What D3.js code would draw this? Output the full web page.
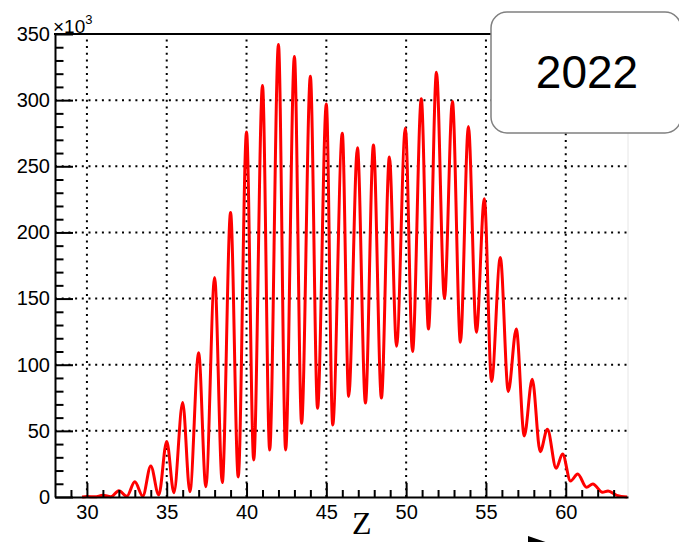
<!DOCTYPE html>
<html>
<head>
<meta charset="utf-8">
<script src="https://cdn.jsdelivr.net/npm/d3@7"></script>
<style>
  html, body { margin: 0; padding: 0; background: #fff; }
  svg { display: block; }
</style>
</head>
<body>
<script>
// Charge distribution: yield (x10^3) at the peaks and valleys of the Z spectrum
const zPositions = [
  29.7, 30.0, 30.5, 31.0, 31.5, 32.0, 32.5, 33.0, 33.5, 34.0, 34.5,
  35.0, 35.45, 36.0, 36.45, 37.0, 37.45, 38.0, 38.48, 39.0, 39.48,
  40.0, 40.45, 41.0, 41.45, 42.0, 42.45, 43.0, 43.45, 44.0, 44.45,
  45.0, 45.4, 46.0, 46.4, 46.95, 47.45, 47.95, 48.45, 48.95, 49.4,
  49.95, 50.4, 50.95, 51.4, 51.9, 52.4, 52.9, 53.4, 53.9, 54.4,
  54.9, 55.35, 55.9, 56.4, 56.9, 57.4, 57.9, 58.4, 58.85, 59.4,
  59.8, 60.3, 60.75, 61.3, 61.7, 62.3, 62.65, 63.2, 63.85
];
const countsK = [
  0, 0.4, 0.1, 1.3, 0.2, 4.8, 0.5, 11.5, 0.7, 23.5, 1.5,
  42, 3.3, 71.5, 4, 109, 7.8, 166, 10.9, 215, 15.2,
  276, 28, 311, 35.6, 342, 35.6, 333, 55.8, 318, 67,
  297, 54.5, 275, 76, 264, 71, 266, 74.8, 257, 113.9,
  279, 110, 301, 127, 321, 150, 299, 117, 280, 124.5,
  225.5, 87.4, 181, 79.8, 127, 46.2, 89, 34.3, 51.3, 21.7,
  32.6, 12.1, 17.4, 7.3, 9.8, 3.5, 4.5, 1.2, 0
];
const xMajorTicks = [30, 35, 40, 45, 50, 55, 60];
const xMinorTicks = d3.range(29, 64, 1).filter(v => v % 5 !== 0);
const yMajorTicks = [0, 50, 100, 150, 200, 250, 300, 350];
const yMinorTicks = d3.range(10, 350, 10).filter(v => v % 50 !== 0);
const yearLabel = "2022";
const xTitle = "Z";

const W = 679, H = 542;
const margin = { left: 55, top: 34, right: 51, bottom: 45 };

const svg = d3.select("body").append("svg")
  .attr("width", W).attr("height", H)
  .style("font-family", "'Liberation Sans', Arial, Helvetica, sans-serif");

const x = d3.scaleLinear().domain([28, 63.9]).range([margin.left, W - margin.right]);
const y = d3.scaleLinear().domain([0, 350]).range([H - margin.bottom, margin.top]);

// faint right edge of the frame
svg.append("line")
  .attr("x1", x(63.9)).attr("x2", x(63.9))
  .attr("y1", y(0)).attr("y2", y(350))
  .attr("stroke", "#e6e6e6").attr("stroke-width", 1);

// dotted grid
const grid = svg.append("g")
  .attr("stroke", "#000").attr("stroke-width", 2)
  .attr("stroke-dasharray", "2,4.7");
grid.selectAll(".gx").data(xMajorTicks).join("line")
  .attr("x1", d => x(d)).attr("x2", d => x(d))
  .attr("y1", y(0)).attr("y2", y(350));
grid.selectAll(".gy").data(yMajorTicks.filter(v => v > 0 && v < 350)).join("line")
  .attr("x1", x(28)).attr("x2", x(63.9))
  .attr("y1", d => y(d)).attr("y2", d => y(d));

// spectrum curve
const line = d3.line()
  .x((d, i) => x(zPositions[i]))
  .y(d => y(d))
  .curve(d3.curveMonotoneX);
svg.append("path")
  .datum(countsK)
  .attr("d", line)
  .attr("fill", "none")
  .attr("stroke", "#ff0000")
  .attr("stroke-width", 3)
  .attr("stroke-linejoin", "round");

// axes with inward ticks
svg.append("g")
  .attr("transform", `translate(${x(28)},0)`)
  .call(d3.axisLeft(y).tickValues(yMajorTicks).tickSizeInner(-18).tickSizeOuter(0).tickPadding(5));
svg.append("g")
  .attr("transform", `translate(${x(28)},0)`)
  .call(d3.axisLeft(y).tickValues(yMinorTicks).tickSizeInner(-8.5).tickSizeOuter(0).tickFormat(""))
  .call(g => g.select(".domain").remove());

svg.append("g")
  .attr("transform", `translate(0,${y(0)})`)
  .call(d3.axisBottom(x).tickValues(xMajorTicks).tickSizeInner(-14).tickSizeOuter(0).tickPadding(8));
svg.append("g")
  .attr("transform", `translate(0,${y(0)})`)
  .call(d3.axisBottom(x).tickValues(xMinorTicks).tickSizeInner(-7).tickSizeOuter(0).tickFormat(""))
  .call(g => g.select(".domain").remove());

svg.selectAll(".tick line").attr("stroke", "#000").attr("stroke-width", 2);
svg.selectAll(".domain").attr("stroke", "#000").attr("stroke-width", 2);
svg.selectAll(".tick text")
  .attr("fill", "#000")
  .style("font-size", "20px")
  .style("font-family", "'Liberation Sans', Arial, Helvetica, sans-serif");

// top frame line
svg.append("line")
  .attr("x1", x(28) - 1).attr("x2", x(63.9))
  .attr("y1", y(350)).attr("y2", y(350))
  .attr("stroke", "#000").attr("stroke-width", 2);

// y-axis multiplier
const mult = svg.append("text").attr("fill", "#000").attr("x", 53).attr("y", 33)
  .style("font-size", "19px");
mult.append("tspan").text("\u00d710");
mult.append("tspan").attr("dy", -9).style("font-size", "13px").text("3");

// year box
svg.append("rect")
  .attr("x", 491).attr("y", 12)
  .attr("width", 190).attr("height", 121)
  .attr("rx", 16).attr("ry", 16)
  .attr("fill", "#fff")
  .attr("stroke", "#808080").attr("stroke-width", 1.5);
svg.append("text")
  .attr("x", 587).attr("y", 88)
  .attr("text-anchor", "middle")
  .style("font-size", "46px")
  .attr("fill", "#000")
  .text(yearLabel);

// axis title and arrow head
svg.append("text")
  .attr("x", 352).attr("y", 534)
  .style("font-family", "'Liberation Serif', 'Times New Roman', serif")
  .style("font-size", "32px")
  .attr("fill", "#000")
  .text(xTitle);
svg.append("path")
  .attr("d", "M528,536 L528,560 L563,548 Z")
  .attr("fill", "#000");
</script>
</body>
</html>
